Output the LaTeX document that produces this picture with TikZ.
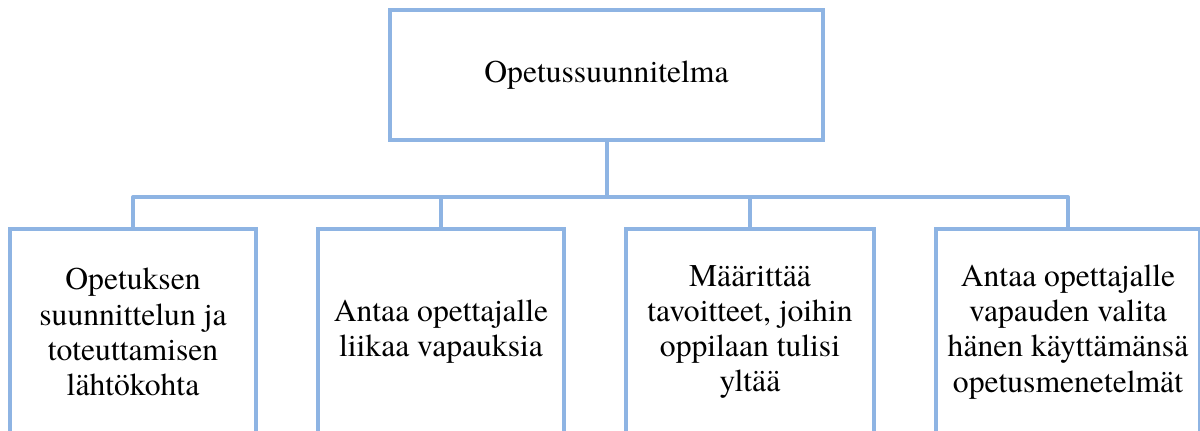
\documentclass[tikz,border=0pt]{standalone}
\usepackage{fontspec}
\setmainfont{texgyretermes-regular.otf}
\definecolor{boxblue}{RGB}{142,180,227}
\begin{document}
\begin{tikzpicture}[x=0.02cm,y=-0.02cm,
		every node/.style={font=\fontsize{18}{20}\selectfont,align=center,inner sep=0pt},
		box/.style={rectangle,draw=boxblue,line width=0.08cm,minimum height=4.12cm},
		link/.style={draw=boxblue,line width=0.08cm,line join=round}]
				\path[use as bounding box,clip] (0,0) rectangle (1200,431);
				\node[box,minimum width=8.66cm,minimum height=2.6cm] (top) at (606.5,75) {Opetussuunnitelma};
				\node[box,minimum width=4.93cm,anchor=north] (b1) at (133,227) {Opetuksen\\suunnittelun ja\\toteuttamisen\\lähtökohta};
				\node[box,minimum width=4.93cm,anchor=north] (b2) at (441,227) {Antaa opettajalle\\liikaa vapauksia};
				\node[box,minimum width=4.97cm,anchor=north] (b3) at (750,227) {Määrittää\\tavoitteet, joihin\\oppilaan tulisi\\yltää};
				\node[box,minimum width=5.3cm,anchor=north] (b4) at (1068,227) {Antaa opettajalle\\vapauden valita\\hänen käyttämänsä\\opetusmenetelmät};
				\coordinate (bus) at (606.5,197);
				\draw[link] (top.south) -- (bus);
				\foreach \b in {b1,b2,b3,b4}
					\draw[link] (bus) -| (\b.north);
			\end{tikzpicture}
\end{document}
